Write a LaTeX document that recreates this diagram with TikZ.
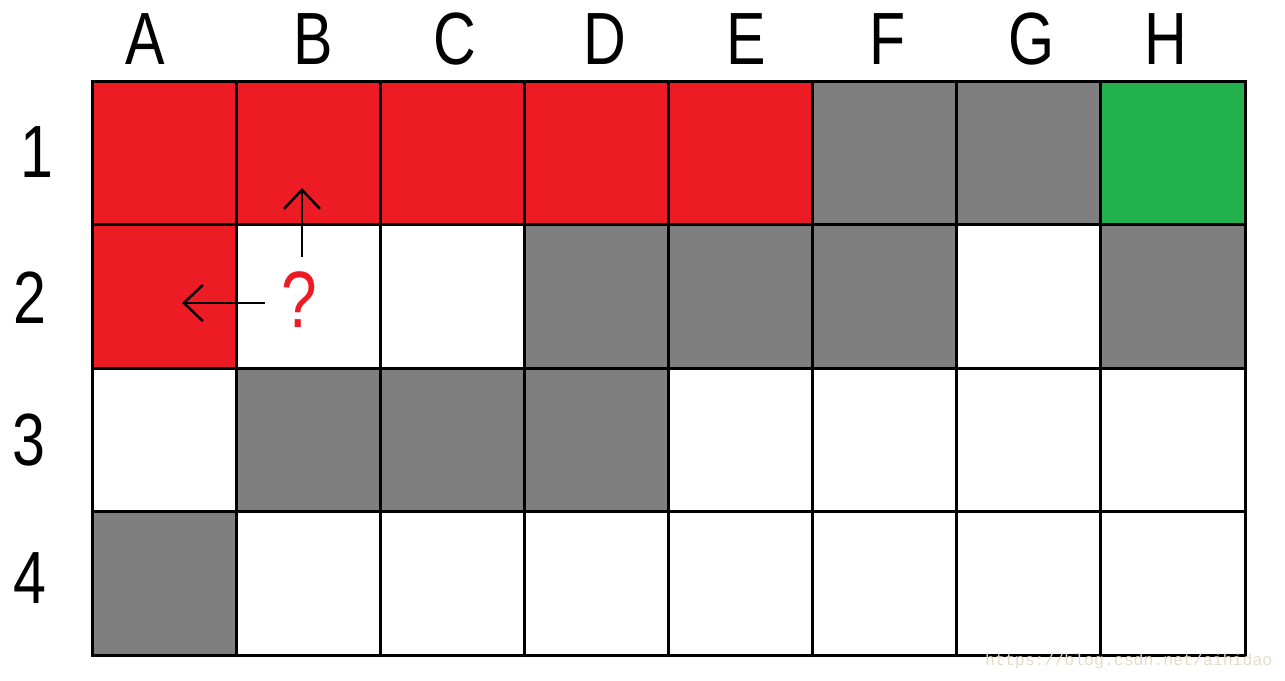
\documentclass[tikz,border=0pt]{standalone}
\usepackage{fontspec}
\setmainfont{Liberation Sans}
\newfontfamily\labfont[FakeStretch=0.8]{Liberation Sans}
\newfontfamily\wmfont{Liberation Mono}
\usetikzlibrary{arrows.meta}
\definecolor{cred}{RGB}{237,28,36}
\definecolor{cgray}{RGB}{127,127,127}
\definecolor{cgreen}{RGB}{34,177,76}
\definecolor{cwhite}{RGB}{255,255,255}
\definecolor{wmcol}{RGB}{228,222,200}
\begin{document}
\begin{tikzpicture}[x=1pt,y=-1pt,
  cell/.style={draw=black,line width=3pt,minimum width=144.125pt,minimum height=143.5pt,inner sep=0pt,anchor=center},
  lab/.style={font=\labfont\fontsize{74}{74}\selectfont,inner sep=0pt,anchor=center},
  arr/.style={line width=2.5pt,-{Straight Barb[length=19pt,width=36pt,line width=2.5pt]}}]
\fill[white] (0,0) rectangle (1285,680);
\useasboundingbox (0,0) rectangle (1285,680);
\foreach \r/\row in {1/{cred,cred,cred,cred,cred,cgray,cgray,cgreen},
                     2/{cred,cwhite,cwhite,cgray,cgray,cgray,cwhite,cgray},
                     3/{cwhite,cgray,cgray,cgray,cwhite,cwhite,cwhite,cwhite},
                     4/{cgray,cwhite,cwhite,cwhite,cwhite,cwhite,cwhite,cwhite}}{
  \foreach \f [count=\i] in \row {
    \node[cell,fill=\f] (cell-\r-\i) at ({92+144.125*(\i-0.5)},{81+143.5*(\r-0.5)}) {};
  }
}
% column labels
\foreach \t/\x in {A/145,B/313,C/455,D/605,E/746,F/888,G/1032,H/1166}{
  \node[lab] (col-\t) at (\x,39) {\t};
}
% row labels
\foreach \t/\x/\y in {1/37/152,2/30/298,3/29/440,4/30/578}{
  \node[lab] (row-\t) at (\x,\y) {\t};
}
% question mark and arrows
\node[inner sep=0pt,text=cred,font=\labfont\fontsize{80}{80}\selectfont] (q) at (299,300) {?};
\coordinate (upStart) at (302,257);
\coordinate (upTip) at (302,188);
\coordinate (leftStart) at (265,303);
\coordinate (leftTip) at (182,303);
\draw[arr] (upStart) -- (upTip);
\draw[arr] (leftStart) -- (leftTip);
% watermark
\node[anchor=west,inner sep=0pt,text=wmcol,font=\wmfont\fontsize{16.5}{16.5}\selectfont] (wm) at (985,661) {https://blog.csdn.net/aihidao};
\end{tikzpicture}
\end{document}
